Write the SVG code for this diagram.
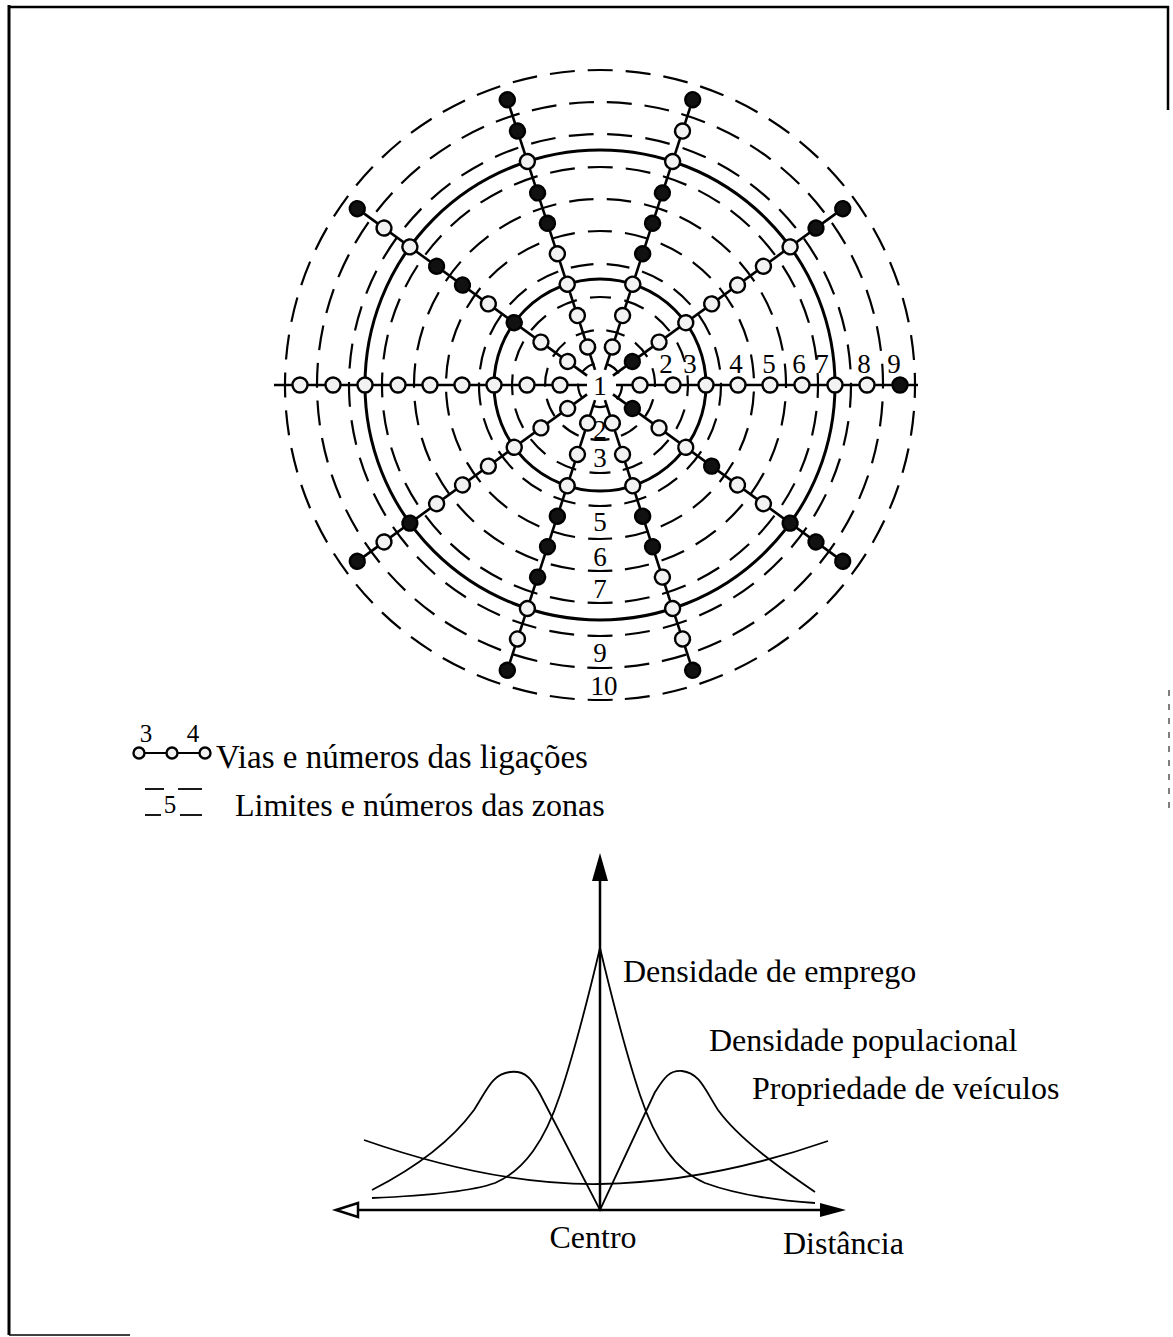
<svg xmlns="http://www.w3.org/2000/svg" width="1173" height="1337" viewBox="0 0 1173 1337">
<style>
.d{fill:none;stroke:#000;stroke-width:2.2}
.s{fill:none;stroke:#000;stroke-width:3}
.sp{stroke:#000;stroke-width:2.6}
.w{fill:#f2f2f2;stroke:#000;stroke-width:2.4}
.b{fill:#111;stroke:#000;stroke-width:2.4}
.t{font-family:"Liberation Serif","Times New Roman",serif;fill:#000}
.num{font-size:27px;text-anchor:middle}
.lbl{font-size:32px}
.crv{fill:none;stroke:#000;stroke-width:1.8}
.ax{stroke:#000;stroke-width:2.5;fill:none}
</style>
<rect width="1173" height="1337" fill="#fff"/>
<g id="frame">
<line x1="9" y1="5" x2="9" y2="1335" stroke="#000" stroke-width="3"/>
<line x1="8" y1="7" x2="1169" y2="7" stroke="#000" stroke-width="2.5"/>
<line x1="1168" y1="6" x2="1168" y2="110" stroke="#000" stroke-width="2.5"/>
<line x1="1169" y1="690" x2="1169" y2="810" stroke="#555" stroke-width="1.5" stroke-dasharray="6 8"/>
<line x1="9" y1="1335" x2="130" y2="1335" stroke="#000" stroke-width="1.5"/>
</g>
<g id="zones">
<circle class="d" cx="600" cy="385" r="22" stroke-dasharray="16 11.6" transform="rotate(69.2 600 385)"/>
<circle class="d" cx="600" cy="385" r="55" stroke-dasharray="19 12.4" transform="rotate(80.1 600 385)"/>
<circle class="d" cx="600" cy="385" r="88" stroke-dasharray="21 13.56" transform="rotate(83.2 600 385)"/>
<circle class="d" cx="600" cy="385" r="121" stroke-dasharray="23 13.2" transform="rotate(84.55 600 385)"/>
<circle class="d" cx="600" cy="385" r="154" stroke-dasharray="24 13.2" transform="rotate(85.5 600 385)"/>
<circle class="d" cx="600" cy="385" r="186" stroke-dasharray="24.5 13.2" transform="rotate(86.2 600 385)"/>
<circle class="d" cx="600" cy="385" r="218" stroke-dasharray="25 13.05" transform="rotate(86.7 600 385)"/>
<circle class="d" cx="600" cy="385" r="251" stroke-dasharray="25 13.47" transform="rotate(87.15 600 385)"/>
<circle class="d" cx="600" cy="385" r="283" stroke-dasharray="25 12.83" transform="rotate(87.5 600 385)"/>
<circle class="d" cx="600" cy="385" r="315" stroke-dasharray="25 13.06" transform="rotate(87.7 600 385)"/>
<circle class="s" cx="600" cy="385" r="106"/>
<circle class="s" cx="600" cy="385" r="235"/>
</g>
<g id="connectors">
<line class="sp" x1="616" y1="385" x2="918" y2="385"/>
<line class="sp" x1="616" y1="385" x2="900" y2="385" transform="rotate(-36 600 385)"/>
<line class="sp" x1="616" y1="385" x2="900" y2="385" transform="rotate(-72 600 385)"/>
<line class="sp" x1="616" y1="385" x2="900" y2="385" transform="rotate(-108 600 385)"/>
<line class="sp" x1="616" y1="385" x2="900" y2="385" transform="rotate(-144 600 385)"/>
<line class="sp" x1="613" y1="385" x2="926" y2="385" transform="rotate(180 600 385)"/>
<line class="sp" x1="616" y1="385" x2="900" y2="385" transform="rotate(144 600 385)"/>
<line class="sp" x1="616" y1="385" x2="900" y2="385" transform="rotate(108 600 385)"/>
<line class="sp" x1="616" y1="385" x2="900" y2="385" transform="rotate(72 600 385)"/>
<line class="sp" x1="616" y1="385" x2="900" y2="385" transform="rotate(36 600 385)"/>
</g>
<g id="nodes">
<g id="spoke-0">
<circle id="n0-1" class="w" cx="640" cy="385" r="7.5"/><circle id="n0-2" class="w" cx="673" cy="385" r="7.5"/><circle id="n0-3" class="w" cx="706" cy="385" r="7.5"/><circle id="n0-4" class="w" cx="738" cy="385" r="7.5"/><circle id="n0-5" class="w" cx="770" cy="385" r="7.5"/><circle id="n0-6" class="w" cx="802" cy="385" r="7.5"/><circle id="n0-7" class="w" cx="835" cy="385" r="7.5"/><circle id="n0-8" class="w" cx="867" cy="385" r="7.5"/><circle id="n0-9" class="b" cx="900" cy="385" r="7.5"/>
</g>
<g id="spoke-36" transform="rotate(-36 600 385)">
<circle id="n36-1" class="b" cx="640" cy="385" r="7.5"/><circle id="n36-2" class="w" cx="673" cy="385" r="7.5"/><circle id="n36-3" class="w" cx="706" cy="385" r="7.5"/><circle id="n36-4" class="w" cx="738" cy="385" r="7.5"/><circle id="n36-5" class="w" cx="770" cy="385" r="7.5"/><circle id="n36-6" class="w" cx="802" cy="385" r="7.5"/><circle id="n36-7" class="w" cx="835" cy="385" r="7.5"/><circle id="n36-8" class="b" cx="867" cy="385" r="7.5"/><circle id="n36-9" class="b" cx="900" cy="385" r="7.5"/>
</g>
<g id="spoke-72" transform="rotate(-72 600 385)">
<circle id="n72-1" class="w" cx="640" cy="385" r="7.5"/><circle id="n72-2" class="w" cx="673" cy="385" r="7.5"/><circle id="n72-3" class="w" cx="706" cy="385" r="7.5"/><circle id="n72-4" class="b" cx="738" cy="385" r="7.5"/><circle id="n72-5" class="b" cx="770" cy="385" r="7.5"/><circle id="n72-6" class="b" cx="802" cy="385" r="7.5"/><circle id="n72-7" class="w" cx="835" cy="385" r="7.5"/><circle id="n72-8" class="w" cx="867" cy="385" r="7.5"/><circle id="n72-9" class="b" cx="900" cy="385" r="7.5"/>
</g>
<g id="spoke-108" transform="rotate(-108 600 385)">
<circle id="n108-1" class="w" cx="640" cy="385" r="7.5"/><circle id="n108-2" class="w" cx="673" cy="385" r="7.5"/><circle id="n108-3" class="w" cx="706" cy="385" r="7.5"/><circle id="n108-4" class="w" cx="738" cy="385" r="7.5"/><circle id="n108-5" class="b" cx="770" cy="385" r="7.5"/><circle id="n108-6" class="b" cx="802" cy="385" r="7.5"/><circle id="n108-7" class="w" cx="835" cy="385" r="7.5"/><circle id="n108-8" class="b" cx="867" cy="385" r="7.5"/><circle id="n108-9" class="b" cx="900" cy="385" r="7.5"/>
</g>
<g id="spoke-144" transform="rotate(-144 600 385)">
<circle id="n144-1" class="w" cx="640" cy="385" r="7.5"/><circle id="n144-2" class="w" cx="673" cy="385" r="7.5"/><circle id="n144-3" class="b" cx="706" cy="385" r="7.5"/><circle id="n144-4" class="w" cx="738" cy="385" r="7.5"/><circle id="n144-5" class="b" cx="770" cy="385" r="7.5"/><circle id="n144-6" class="b" cx="802" cy="385" r="7.5"/><circle id="n144-7" class="w" cx="835" cy="385" r="7.5"/><circle id="n144-8" class="w" cx="867" cy="385" r="7.5"/><circle id="n144-9" class="b" cx="900" cy="385" r="7.5"/>
</g>
<g id="spoke-180" transform="rotate(180 600 385)">
<circle id="n180-1" class="w" cx="640" cy="385" r="7.5"/><circle id="n180-2" class="w" cx="673" cy="385" r="7.5"/><circle id="n180-3" class="w" cx="706" cy="385" r="7.5"/><circle id="n180-4" class="w" cx="738" cy="385" r="7.5"/><circle id="n180-5" class="w" cx="770" cy="385" r="7.5"/><circle id="n180-6" class="w" cx="802" cy="385" r="7.5"/><circle id="n180-7" class="w" cx="835" cy="385" r="7.5"/><circle id="n180-8" class="w" cx="867" cy="385" r="7.5"/><circle id="n180-9" class="w" cx="900" cy="385" r="7.5"/>
</g>
<g id="spoke-216" transform="rotate(144 600 385)">
<circle id="n216-1" class="w" cx="640" cy="385" r="7.5"/><circle id="n216-2" class="w" cx="673" cy="385" r="7.5"/><circle id="n216-3" class="w" cx="706" cy="385" r="7.5"/><circle id="n216-4" class="w" cx="738" cy="385" r="7.5"/><circle id="n216-5" class="w" cx="770" cy="385" r="7.5"/><circle id="n216-6" class="w" cx="802" cy="385" r="7.5"/><circle id="n216-7" class="b" cx="835" cy="385" r="7.5"/><circle id="n216-8" class="w" cx="867" cy="385" r="7.5"/><circle id="n216-9" class="b" cx="900" cy="385" r="7.5"/>
</g>
<g id="spoke-252" transform="rotate(108 600 385)">
<circle id="n252-1" class="w" cx="640" cy="385" r="7.5"/><circle id="n252-2" class="w" cx="673" cy="385" r="7.5"/><circle id="n252-3" class="w" cx="706" cy="385" r="7.5"/><circle id="n252-4" class="b" cx="738" cy="385" r="7.5"/><circle id="n252-5" class="b" cx="770" cy="385" r="7.5"/><circle id="n252-6" class="b" cx="802" cy="385" r="7.5"/><circle id="n252-7" class="w" cx="835" cy="385" r="7.5"/><circle id="n252-8" class="w" cx="867" cy="385" r="7.5"/><circle id="n252-9" class="b" cx="900" cy="385" r="7.5"/>
</g>
<g id="spoke-288" transform="rotate(72 600 385)">
<circle id="n288-1" class="w" cx="640" cy="385" r="7.5"/><circle id="n288-2" class="w" cx="673" cy="385" r="7.5"/><circle id="n288-3" class="w" cx="706" cy="385" r="7.5"/><circle id="n288-4" class="b" cx="738" cy="385" r="7.5"/><circle id="n288-5" class="b" cx="770" cy="385" r="7.5"/><circle id="n288-6" class="w" cx="802" cy="385" r="7.5"/><circle id="n288-7" class="w" cx="835" cy="385" r="7.5"/><circle id="n288-8" class="w" cx="867" cy="385" r="7.5"/><circle id="n288-9" class="b" cx="900" cy="385" r="7.5"/>
</g>
<g id="spoke-324" transform="rotate(36 600 385)">
<circle id="n324-1" class="b" cx="640" cy="385" r="7.5"/><circle id="n324-2" class="w" cx="673" cy="385" r="7.5"/><circle id="n324-3" class="w" cx="706" cy="385" r="7.5"/><circle id="n324-4" class="b" cx="738" cy="385" r="7.5"/><circle id="n324-5" class="w" cx="770" cy="385" r="7.5"/><circle id="n324-6" class="w" cx="802" cy="385" r="7.5"/><circle id="n324-7" class="b" cx="835" cy="385" r="7.5"/><circle id="n324-8" class="b" cx="867" cy="385" r="7.5"/><circle id="n324-9" class="b" cx="900" cy="385" r="7.5"/>
</g>
</g>
<g id="labels" class="t num">
<text x="600" y="395">1</text>
<text x="666" y="373">2</text>
<text x="690" y="373">3</text>
<text x="736" y="373">4</text>
<text x="769" y="373">5</text>
<text x="799" y="373">6</text>
<text x="822" y="373">7</text>
<text x="864" y="373">8</text>
<text x="894" y="373">9</text>
<text x="600" y="439">2</text>
<text x="600" y="467">3</text>
<text x="600" y="531">5</text>
<text x="600" y="566">6</text>
<text x="600" y="598">7</text>
<text x="600" y="662">9</text>
<text x="604" y="695">10</text>
</g>
<g id="legend">
<text class="t" x="146" y="742" font-size="25" text-anchor="middle">3</text>
<text class="t" x="193" y="742" font-size="25" text-anchor="middle">4</text>
<line x1="138" y1="753" x2="206" y2="753" stroke="#000" stroke-width="2"/>
<circle class="w" cx="139" cy="753" r="5.5" stroke-width="1.8"/>
<circle class="w" cx="172" cy="753" r="5.5" stroke-width="1.8"/>
<circle class="w" cx="205" cy="753" r="5.5" stroke-width="1.8"/>
<text class="t" x="216" y="768" font-size="33">Vias e números das ligações</text>
<line x1="145" y1="789" x2="164" y2="789" stroke="#000" stroke-width="1.8"/>
<line x1="178" y1="789" x2="202" y2="789" stroke="#000" stroke-width="1.8"/>
<line x1="145" y1="815" x2="161" y2="815" stroke="#000" stroke-width="1.8"/>
<line x1="180" y1="815" x2="202" y2="815" stroke="#000" stroke-width="1.8"/>
<text class="t" x="170" y="813" font-size="25" text-anchor="middle">5</text>
<text class="t lbl" x="235" y="816">Limites e números das zonas</text>
</g>
<g id="chart">
<line class="ax" x1="600" y1="1210" x2="600" y2="878"/>
<polygon points="600,853 592,881 608,881" fill="#000"/>
<line class="ax" x1="355" y1="1210" x2="822" y2="1210"/>
<polygon points="846,1210 820,1203 820,1217" fill="#000"/>
<polygon points="336,1210 358,1203 358,1217" fill="#fff" stroke="#000" stroke-width="2.5"/>
<path class="crv" d="M372,1198 C420,1196 470,1192 495,1183 C525,1170 545,1140 560,1095 C575,1050 590,990 600,948 C610,990 625,1050 640,1095 C655,1140 675,1170 705,1183 C735,1194 770,1200 815,1203"/>
<path class="crv" d="M372,1190 C415,1168 452,1140 474,1110 C487,1090 492,1074 510,1072 C526,1070 532,1080 540,1094 L600,1210 L655,1092 C663,1080 668,1070 682,1071 C700,1073 705,1090 718,1110 C740,1140 780,1168 815,1192"/>
<path class="crv" d="M364,1140 C450,1170 530,1185 600,1184 C670,1183 750,1168 828,1141"/>
<text class="t lbl" x="623" y="982">Densidade de emprego</text>
<text class="t lbl" x="709" y="1051">Densidade populacional</text>
<text class="t lbl" x="752" y="1099">Propriedade de veículos</text>
<text class="t lbl" x="593" y="1248" text-anchor="middle">Centro</text>
<text class="t lbl" x="783" y="1254">Distância</text>
</g>
</svg>
